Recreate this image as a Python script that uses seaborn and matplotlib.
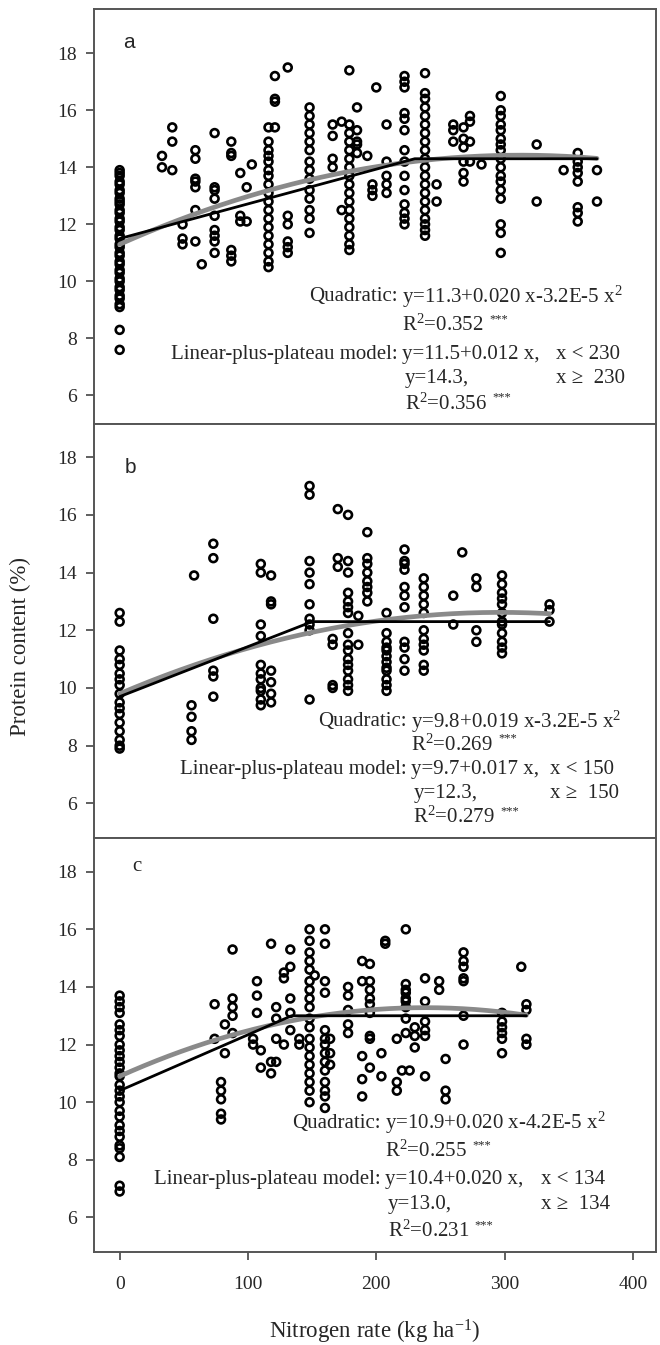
import numpy as np
import pandas as pd
import matplotlib
matplotlib.use("Agg")
import matplotlib.pyplot as plt
import seaborn as sns

# nitrogen rates (kg/ha) and protein values (%)
a_rates = [0, 33, 41, 49, 59, 64, 74, 87, 94, 99, 103, 116, 121, 131, 148, 166, 173, 179,
           185, 193, 197, 200, 208, 222, 238, 247, 260, 268, 273, 282, 297, 325, 346, 357, 372]
a_protein = [
    [13.9, 13.8, 13.7, 13.5, 13.4, 13.2, 13.1, 12.9, 12.8, 12.7, 12.5, 12.4, 12.2, 12.1, 11.9,
     11.8, 11.6, 11.5, 11.3, 11.2, 11.0, 10.9, 10.7, 10.6, 10.4, 10.3, 10.1, 10.0, 9.8, 9.7,
     9.5, 9.4, 9.2, 9.1, 8.3, 7.6],
    [14.4, 14.0],
    [15.4, 14.9, 13.9],
    [12.0, 11.5, 11.3],
    [14.6, 14.3, 13.6, 13.5, 13.3, 12.5, 11.4],
    [10.6],
    [15.2, 13.3, 13.2, 12.9, 12.3, 11.8, 11.6, 11.4, 11.0],
    [14.9, 14.5, 14.4, 11.1, 10.9, 10.7],
    [13.8, 12.3, 12.1],
    [13.3, 12.1],
    [14.1],
    [15.4, 14.9, 14.6, 14.4, 14.2, 13.9, 13.7, 13.4, 13.1, 12.8, 12.5, 12.2, 11.9, 11.6, 11.3,
     11.0, 10.7, 10.5],
    [17.2, 16.4, 16.3, 15.4],
    [17.5, 12.3, 12.0, 11.4, 11.2, 11.0],
    [16.1, 15.8, 15.5, 15.2, 14.9, 14.6, 14.2, 13.9, 13.6, 13.2, 12.9, 12.5, 12.2, 11.7],
    [15.5, 15.1, 14.3, 14.0],
    [15.6, 12.5],
    [17.4, 15.5, 15.2, 14.9, 14.6, 14.3, 14.0, 13.7, 13.4, 13.1, 12.8, 12.5, 12.2, 11.9, 11.6,
     11.3, 11.1],
    [16.1, 15.3, 14.9, 14.8, 14.5],
    [14.4],
    [13.4, 13.2, 13.0],
    [16.8],
    [15.5, 14.2, 13.7, 13.4, 13.1],
    [17.2, 17.0, 16.8, 15.9, 15.7, 15.3, 14.6, 14.2, 13.7, 13.2, 12.7, 12.4, 12.2, 12.0],
    [17.3, 16.6, 16.4, 16.1, 15.8, 15.5, 15.2, 14.9, 14.6, 14.3, 14.0, 13.7, 13.4, 13.1, 12.8,
     12.5, 12.2, 12.0, 11.8, 11.6],
    [13.4, 12.8],
    [15.5, 15.3, 14.9],
    [15.4, 15.0, 14.7, 14.2, 13.8, 13.5],
    [15.8, 15.6, 14.9, 14.2],
    [14.1],
    [16.5, 16.0, 15.8, 15.5, 15.3, 15.0, 14.8, 14.6, 14.3, 14.0, 13.7, 13.5, 13.2, 12.9, 12.0,
     11.7, 11.0],
    [14.8, 12.8],
    [13.9],
    [14.5, 14.2, 14.0, 13.8, 13.5, 12.6, 12.4, 12.1],
    [13.9, 12.8],
]

b_rates = [0, 56, 58, 73, 110, 118, 148, 166, 170, 178, 186, 193, 208, 222, 237, 260, 267,
           278, 298, 335]
b_protein = [
    [12.6, 12.3, 11.3, 11.0, 10.8, 10.5, 10.3, 10.1, 9.8, 9.5, 9.3, 9.1, 8.8, 8.5, 8.2, 8.0, 7.9],
    [9.4, 9.0, 8.5, 8.2],
    [13.9],
    [15.0, 14.5, 12.4, 10.6, 10.4, 9.7],
    [14.3, 14.0, 12.2, 11.8, 10.8, 10.5, 10.3, 10.0, 9.9, 9.6, 9.4],
    [13.9, 13.0, 12.9, 10.6, 10.2, 9.8, 9.5],
    [17.0, 16.7, 14.4, 14.0, 13.6, 12.9, 12.4, 12.2, 12.0, 9.6],
    [11.7, 11.5, 10.1, 10.0],
    [16.2, 14.5, 14.2],
    [16.0, 14.4, 14.0, 13.3, 13.0, 12.8, 12.6, 11.9, 11.5, 11.3, 11.0, 10.8, 10.6, 10.3, 10.1, 9.9],
    [12.5, 11.5],
    [15.4, 14.5, 14.3, 14.0, 13.7, 13.5, 13.3, 13.0],
    [12.6, 11.9, 11.6, 11.4, 11.3, 11.1, 10.9, 10.7, 10.6, 10.3, 10.1, 9.9],
    [14.8, 14.4, 14.3, 14.1, 13.5, 13.2, 12.8, 11.6, 11.4, 11.0, 10.6],
    [13.8, 13.5, 13.2, 12.9, 12.6, 12.0, 11.7, 11.5, 11.3, 10.8, 10.6],
    [13.2, 12.2],
    [14.7],
    [13.8, 13.5, 12.0, 11.6],
    [13.9, 13.6, 13.3, 13.1, 12.9, 12.6, 12.3, 12.2, 11.9, 11.6, 11.4, 11.2],
    [12.9, 12.7, 12.3],
]

c_rates = [0, 74, 79, 82, 88, 104, 107, 110, 118, 122, 128, 133, 140, 148, 152, 160, 164,
           178, 189, 195, 204, 207, 216, 220, 223, 226, 230, 238, 249, 254, 268, 298, 313, 317]
c_protein = [
    [13.7, 13.5, 13.3, 13.1, 12.7, 12.5, 12.3, 12.0, 11.8, 11.6, 11.4, 11.2, 11.0, 10.9, 10.6,
     10.4, 10.2, 10.0, 9.7, 9.5, 9.2, 9.0, 8.8, 8.5, 8.4, 8.1, 7.1, 6.9],
    [13.4, 12.2],
    [10.7, 10.4, 10.1, 9.6, 9.4],
    [12.7, 11.7],
    [15.3, 13.6, 13.3, 13.0, 12.4],
    [12.2, 12.0],
    [14.2, 13.7, 13.1],
    [11.8, 11.2],
    [15.5, 11.4, 11.0],
    [13.3, 12.9, 12.2, 11.4],
    [14.5, 14.3, 12.0],
    [15.3, 14.7, 13.6, 13.1, 12.5],
    [12.2, 12.0],
    [16.0, 15.6, 15.2, 14.9, 14.6, 14.2, 13.9, 13.6, 13.3, 12.9, 12.6, 12.2, 11.9, 11.6, 11.3,
     11.0, 10.7, 10.4, 10.0],
    [14.4],
    [16.0, 15.5, 14.2, 13.8, 12.5, 12.2, 12.0, 11.7, 11.4, 11.1, 10.7, 10.4, 10.2, 9.8],
    [12.2, 11.7, 11.3],
    [14.0, 13.7, 13.2, 12.7, 12.4],
    [14.9, 14.2, 11.6, 10.8, 10.2],
    [14.8, 14.2, 13.9, 13.6, 13.4, 13.1, 12.3, 12.2, 11.2],
    [11.7, 10.9],
    [15.6, 15.5],
    [12.2, 10.7, 10.4],
    [11.1],
    [16.0, 14.1, 13.9, 13.8, 13.6, 13.5, 13.3, 12.9, 12.4],
    [11.1],
    [12.6, 12.3, 11.9],
    [14.3, 13.5, 12.8, 12.5, 12.3, 10.9],
    [14.2, 13.9],
    [11.5, 10.4, 10.1],
    [15.2, 14.9, 14.7, 14.3, 14.2, 13.0, 12.0],
    [13.1, 12.8, 12.6, 12.4, 12.2, 11.7],
    [14.7],
    [13.4, 13.2, 12.2, 12.0],
]

# fitted models as printed on the chart
quad_coef = [[11.3, 0.020, -3.2e-5], [9.8, 0.019, -3.2e-5], [10.9, 0.020, -4.2e-5]]
lp_intercept = [11.5, 9.7, 10.4]
lp_break = [230, 150, 134]
lp_plateau = [14.3, 12.3, 13.0]
fit_end = [372, 335, 317]

quad_txt = ["y=11.3+0.020 x-3.2E-5 x$^{2}$", "y=9.8+0.019 x-3.2E-5 x$^{2}$",
            "y=10.9+0.020 x-4.2E-5 x$^{2}$"]
quad_r2 = ["0.352", "0.269", "0.255"]
lp_txt = ["y=11.5+0.012 x,", "y=9.7+0.017 x,", "y=10.4+0.020 x,"]
lp_r2 = ["0.356", "0.279", "0.231"]
panel_letters = ["a", "b", "c"]

sns.set_theme(style="ticks")
plt.rcParams["font.family"] = ["Liberation Serif", "DejaVu Serif"]
plt.rcParams["mathtext.fontset"] = "custom"
plt.rcParams["mathtext.rm"] = "Liberation Serif"
plt.rcParams["mathtext.it"] = "Liberation Serif:italic"
plt.rcParams["mathtext.bf"] = "Liberation Serif:bold"

fig = plt.figure(figsize=(6.6, 13.45), dpi=100)
left, width = 94 / 660, 562 / 660
# top/bottom pixel rows of each panel
rows = [(9, 424), (424, 838), (838, 1252)]
ylims = [(5.0, 19.55), (4.8, 19.15), (4.8, 19.17)]
eq_x = [220, 227, 207]
cond_x = [340, 335, 328]
line_y = [[9.47, 8.45, 7.43, 6.59, 5.71],
          [8.84, 8.03, 7.17, 6.34, 5.53],
          [9.27, 8.30, 7.32, 6.45, 5.51]]
letter_pos = [(0.052, 0.92), (0.055, 0.896), (0.068, 0.93)]

all_rates = [a_rates, b_rates, c_rates]
all_protein = [a_protein, b_protein, c_protein]
fs = 15


def r2_text(ax, x, y, value):
    t = ax.text(x, y, "R$^{2}$=" + value, ha="left", va="center", fontsize=fs)
    ax.annotate("***", xy=(1, 1), xycoords=t, xytext=(4, 1), textcoords="offset points",
                ha="left", va="top", fontsize=9)


axes = []
for i in range(3):
    top, bot = rows[i]
    ax = fig.add_axes([left, 1 - bot / 1345, width, (bot - top) / 1345])
    axes.append(ax)

    df = pd.DataFrame({"rate": all_rates[i], "protein": all_protein[i]}).explode("protein")
    df["protein"] = df["protein"].astype(float)
    df["rate"] = df["rate"].astype(float)

    sns.scatterplot(data=df, x="rate", y="protein", ax=ax, marker="o", s=32,
                    facecolors="none", edgecolors="black", linewidths=1.9, zorder=2)

    xx = np.linspace(0, fit_end[i], 200)
    c0, c1, c2 = quad_coef[i]
    sns.lineplot(x=xx, y=c0 + c1 * xx + c2 * xx ** 2, ax=ax, color="#8a8a8a", lw=3.4,
                 zorder=3)
    sns.lineplot(x=[0, lp_break[i], fit_end[i]],
                 y=[lp_intercept[i], lp_plateau[i], lp_plateau[i]],
                 ax=ax, color="black", lw=2.0, zorder=4)

    ax.set_xlim(-20, 418)
    ax.set_ylim(*ylims[i])
    ax.set_yticks([6, 8, 10, 12, 14, 16, 18])
    ax.set_xticks([0, 100, 200, 300, 400])
    ax.set_xlabel("")
    ax.set_ylabel("")
    ax.tick_params(axis="y", direction="out", length=6, width=1.2, color="#444444",
                   labelsize=14, pad=6)
    ax.tick_params(axis="x", direction="out", length=6, width=1.2, color="#444444",
                   labelsize=14, pad=11)
    if i < 2:
        ax.tick_params(axis="x", bottom=False, labelbottom=False)
    for sp in ax.spines.values():
        sp.set_color("#555555")
        sp.set_linewidth(1.4)

    fam = ["Liberation Sans"] if i < 2 else ["Liberation Serif"]
    ax.text(*letter_pos[i], panel_letters[i], transform=ax.transAxes, fontsize=15,
            family=fam, va="center", ha="left")

    ys = line_y[i]
    ex = eq_x[i]
    ax.text(ex - 3.5, ys[0], "Quadratic:", ha="right", va="center", fontsize=fs)
    ax.text(ex, ys[0], quad_txt[i], ha="left", va="center", fontsize=fs)
    r2_text(ax, ex, ys[1], quad_r2[i])
    ax.text(ex - 3.5, ys[2], "Linear-plus-plateau model:", ha="right", va="center",
            fontsize=fs)
    ax.text(ex, ys[2], lp_txt[i], ha="left", va="center", fontsize=fs)
    ax.text(cond_x[i], ys[2], "x < %d" % lp_break[i], ha="left", va="center", fontsize=fs)
    ax.text(ex + 2, ys[3], "y=%.1f," % lp_plateau[i], ha="left", va="center", fontsize=fs)
    ax.text(cond_x[i], ys[3], "x \u2265  %d" % lp_break[i], ha="left", va="center",
            fontsize=fs)
    r2_text(ax, ex + 2, ys[4], lp_r2[i])

axes[2].set_xlabel("Nitrogen rate (kg ha$^{-1}$)", fontsize=16.5, labelpad=18)
fig.text(20 / 660, 1 - 646 / 1345, "Protein content (%)", rotation=90, va="center",
         ha="center", fontsize=16.5)

fig.savefig("out.png", dpi=100)
